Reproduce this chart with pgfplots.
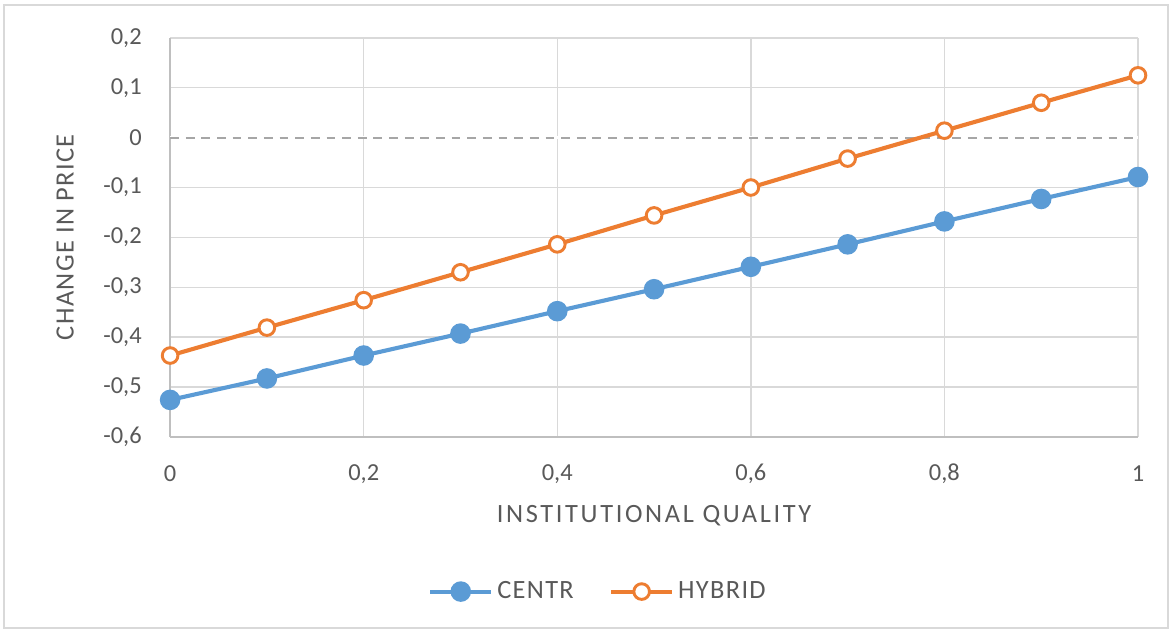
\documentclass[border=0pt]{standalone}
\usepackage{pgfplots}
\pgfplotsset{compat=1.18}
\usepackage{fontspec}
\setmainfont{Carlito}
\newfontfamily\xlabf[LetterSpace=10]{Carlito}
\newfontfamily\ylabf[LetterSpace=5]{Carlito}
\definecolor{cblue}{HTML}{5B9BD5}
\definecolor{corange}{HTML}{ED7D31}
\definecolor{gridc}{HTML}{D9D9D9}
\definecolor{axc}{HTML}{BFBFBF}
\definecolor{txt}{HTML}{595959}
\definecolor{zeroc}{HTML}{A6A6A6}
\begin{document}
\begin{tikzpicture}
\begin{axis}[
  scale only axis, width=495pt, height=204pt,
  xmin=0, xmax=1, ymin=-0.6, ymax=0.2,
  axis x line*=bottom, axis y line*=left,
  axis line style={axc, line width=1.1pt, -},
  xtick={0,0.2,0.4,0.6,0.8,1},
  xticklabels={0,{0,2},{0,4},{0,6},{0,8},1},
  ytick={-0.6,-0.5,-0.4,-0.3,-0.2,-0.1,0,0.1,0.2},
  yticklabels={{-0,6},{-0,5},{-0,4},{-0,3},{-0,2},{-0,1},0,{0,1},{0,2}},
  major tick length=0pt,
  grid=major, major grid style={gridc, line width=0.7pt},
  tick label style={font=\fontsize{12.5}{15}\selectfont, text=txt},
  xticklabel style={anchor=center, yshift=-19pt},
  yticklabel style={anchor=east, xshift=-11pt},
  xlabel={INSTITUTIONAL QUALITY}, ylabel={CHANGE IN PRICE},
  xlabel style={at={(axis description cs:0.5,-0.198)}, anchor=center, font=\xlabf\fontsize{13.5}{16}\selectfont, text=txt},
  ylabel style={at={(axis description cs:-0.1085,0.5)}, anchor=center, font=\ylabf\fontsize{13.5}{16}\selectfont, text=txt},
  clip=false,
  legend style={at={(axis description cs:0.443,-0.388)}, anchor=center, draw=none, fill=none,
    legend columns=2, font=\ylabf\fontsize{13.5}{16}\selectfont, text=txt,
    /tikz/every even column/.append style={column sep=16pt}},
  legend image code/.code={\draw[mark repeat=2,mark phase=2,#1] plot coordinates {(0cm,0cm) (0.55cm,0cm) (1.1cm,0cm)};},
]
\path ([xshift=-87pt,yshift=-100.3pt]rel axis cs:0,0) rectangle ([xshift=17.9pt,yshift=19.4pt]rel axis cs:1,1);
\draw[gridc, line width=1pt] ([xshift=-84.9pt,yshift=-97.7pt]rel axis cs:0,0) rectangle ([xshift=15.3pt,yshift=16.9pt]rel axis cs:1,1);
\addplot[white, line width=1.4pt, forget plot] coordinates {(0,0) (1,0)};
\addplot[zeroc, line width=1.1pt, dash pattern=on 4.5pt off 3.5pt, forget plot] coordinates {(0,0) (1,0)};
\addplot[cblue, line width=2.1pt, mark=*, mark size=4.2pt, mark options={fill=cblue, draw=cblue, solid}]
 coordinates {(0,-0.526) (0.1,-0.483) (0.2,-0.437) (0.3,-0.393) (0.4,-0.348) (0.5,-0.304) (0.6,-0.259) (0.7,-0.214) (0.8,-0.168) (0.9,-0.123) (1,-0.079)};
\addlegendentry{CENTR}
\addplot[corange, line width=2.1pt, mark=*, mark size=4pt, mark options={fill=white, draw=corange, line width=1.5pt, solid}]
 coordinates {(0,-0.437) (0.1,-0.381) (0.2,-0.326) (0.3,-0.270) (0.4,-0.214) (0.5,-0.156) (0.6,-0.100) (0.7,-0.042) (0.8,0.014) (0.9,0.070) (1,0.125)};
\addlegendentry{HYBRID}
\end{axis}
\end{tikzpicture}
\end{document}
